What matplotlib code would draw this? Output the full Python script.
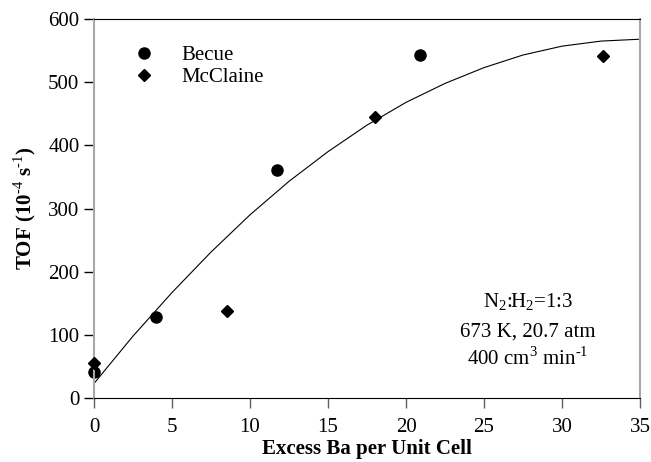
import numpy as np
import matplotlib
matplotlib.use('Agg')
import matplotlib.pyplot as plt
from matplotlib.lines import Line2D

plt.rcParams['font.family'] = 'Liberation Serif'
plt.rcParams['mathtext.fontset'] = 'custom'
plt.rcParams['mathtext.rm'] = 'Liberation Serif'
plt.rcParams['mathtext.bf'] = 'Liberation Serif:bold'

# Becue data (circles)
becue_x = [0.0, 4.0, 11.7, 20.9]
becue_y = [41, 128, 361, 543]

# McClaine data (diamonds)
mcclaine_x = [0.0, 8.5, 18.0, 32.6]
mcclaine_y = [55, 138, 445, 541]

# fitted trend line
fit_x = [0, 2.5, 5, 7.5, 10, 12.5, 15, 17.5, 20, 22.5, 25, 27.5, 30, 32.5, 35]
fit_y = [23, 98, 167, 231, 290, 343, 390, 432, 468, 498, 523, 543, 557, 565, 568]

xticks = [0, 5, 10, 15, 20, 25, 30, 35]
yticks = [0, 100, 200, 300, 400, 500, 600]

fs = 15

fig = plt.figure(figsize=(6.51, 4.62), dpi=100)
ax = fig.add_axes([0.1444, 0.1385, 0.8387, 0.8204])

ax.plot(fit_x, fit_y, color='black', lw=0.8, zorder=1)
ax.plot(becue_x, becue_y, 'o', color='black', ms=8, zorder=2, clip_on=False)
ax.plot(mcclaine_x, mcclaine_y, 'D', color='black', ms=5.8, zorder=3, clip_on=False)

ax.set_xlim(0, 35)
ax.set_ylim(0, 600)
ax.set_xticks(xticks)
ax.set_yticks(yticks)
ax.tick_params(axis='both', direction='out', length=7.5, width=1, labelsize=fs)
ax.tick_params(axis='x', color='#606060', pad=7)
ax.tick_params(axis='y', color='black', pad=3)

ax.spines['left'].set_color('#a8a8a8')
ax.spines['right'].set_color('#a8a8a8')
ax.spines['left'].set_linewidth(1.5)
ax.spines['right'].set_linewidth(1.5)
ax.spines['top'].set_color('black')
ax.spines['bottom'].set_color('black')

ax.set_xlabel('Excess Ba per Unit Cell', fontsize=fs, fontweight='bold', labelpad=1)
ax.set_ylabel(r'TOF (10$^{\text{-4}}$ s$^{\text{-1}}$)', fontsize=fs, fontweight='bold', labelpad=7)

# legend
handles = [Line2D([], [], marker='o', ls='none', color='black', ms=8),
           Line2D([], [], marker='D', ls='none', color='black', ms=5.8)]
ax.legend(handles, ['Becue', 'McClaine'], loc='upper left', bbox_to_anchor=(0.058, 0.951),
          frameon=False, fontsize=fs, handlelength=1.0, handletextpad=1.25,
          labelspacing=0.1, borderaxespad=0, borderpad=0.4)

# conditions
ax.text(0.795, 0.2536, 'N$_2$:H$_2$=1:3', transform=ax.transAxes, ha='center', va='center', fontsize=fs)
ax.text(0.795, 0.174, '673 K, 20.7 atm', transform=ax.transAxes, ha='center', va='center', fontsize=fs)
ax.text(0.795, 0.103, r'400 cm$^3$ min$^{\text{-1}}$', transform=ax.transAxes, ha='center', va='center', fontsize=fs)

fig.savefig('out.png', dpi=100)
